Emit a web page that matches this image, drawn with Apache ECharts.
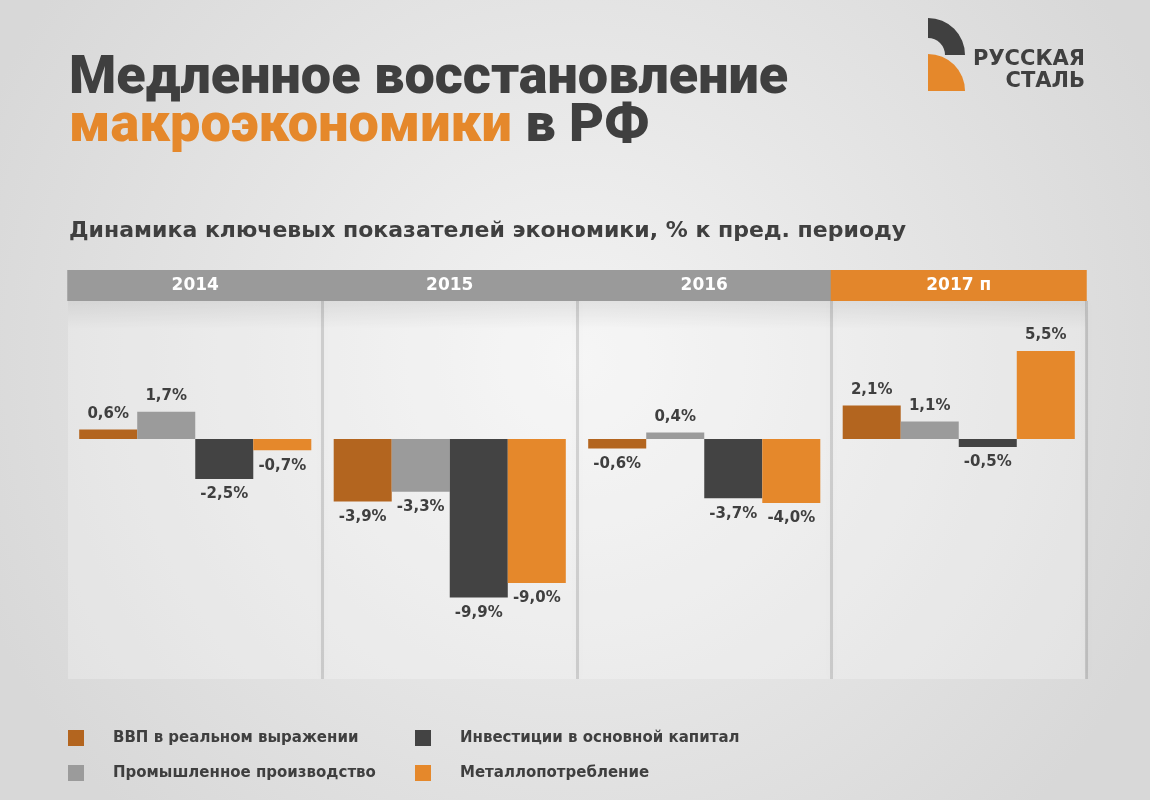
<!DOCTYPE html>
<html lang="ru">
<head>
<meta charset="UTF-8">
<title>Медленное восстановление макроэкономики в РФ</title>
<script src="https://cdn.jsdelivr.net/npm/echarts@6/dist/echarts.min.js"></script>
<style>
  html, body { margin: 0; padding: 0; }
  #main { width: 1150px; height: 800px; }
</style>
</head>
<body>
<div id="main"></div>
<script>
  // данные
  var years = ['2014', '2015', '2016', '2017 п'];
  var seriesNames = ['ВВП в реальном выражении', 'Промышленное производство',
                     'Инвестиции в основной капитал', 'Металлопотребление'];
  var gdp      = [0.6, -3.9, -0.6, 2.1];
  var industry = [1.7, -3.3, 0.4, 1.1];
  var invest   = [-2.5, -9.9, -3.7, -0.5];
  var metal    = [-0.7, -9.0, -4.0, 5.5];

  var colors = ['#b3651f', '#9b9b9b', '#434343', '#e5882b'];
  var TITLE_FONT = "Roboto, 'DejaVu Sans', sans-serif";
  var FONT = "'DejaVu Sans', sans-serif";
  var DARK = '#3f3f3f';

  var chart = echarts.init(document.getElementById('main'));

  function fmt(v) {
    return v.toFixed(1).replace('.', ',') + '%';
  }

  function makeSeries(name, values, color) {
    return {
      name: name,
      type: 'bar',
      barGap: '0%',
      barCategoryGap: '8.8%',
      itemStyle: { color: color },
      data: values.map(function (v) {
        return { value: v, label: { position: v < 0 ? 'bottom' : 'top' } };
      }),
      label: {
        show: true,
        distance: 8,
        color: DARK,
        fontFamily: FONT,
        fontWeight: 'bold',
        fontSize: 15,
        formatter: function (p) { return fmt(p.value); }
      }
    };
  }

  var allSeries = [
    makeSeries(seriesNames[0], gdp, colors[0]),
    makeSeries(seriesNames[1], industry, colors[1]),
    makeSeries(seriesNames[2], invest, colors[2]),
    makeSeries(seriesNames[3], metal, colors[3])
  ];

  var legendText = { color: DARK, fontFamily: FONT, fontWeight: 'bold', fontSize: 15, padding: [0, 0, 0, 24] };

  chart.setOption({
    backgroundColor: {
      type: 'radial', x: 0.5, y: 0.45, r: 0.8,
      colorStops: [{ offset: 0, color: '#f3f3f3' }, { offset: 1, color: '#d8d8d8' }]
    },
    title: [{
      left: 64, top: 50,
      text: '{d|Медленное восстановление}\n{o|макроэкономики}{d| в РФ}',
      textStyle: {
        rich: {
          d: { color: DARK, fontFamily: TITLE_FONT, fontWeight: 900, fontSize: 54, lineHeight: 48 },
          o: { color: '#e5882b', fontFamily: TITLE_FONT, fontWeight: 900, fontSize: 54, lineHeight: 48 }
        }
      }
    }, {
      left: 64, top: 215,
      text: 'Динамика ключевых показателей экономики, % к пред. периоду',
      textStyle: { color: DARK, fontFamily: FONT, fontWeight: 'bold', fontSize: 22 }
    }],
    legend: [{
      data: [seriesNames[0], seriesNames[1]],
      orient: 'vertical', left: 63, top: 725,
      icon: 'rect', itemWidth: 16, itemHeight: 16, itemGap: 19,
      selectedMode: false,
      textStyle: legendText
    }, {
      data: [seriesNames[2], seriesNames[3]],
      orient: 'vertical', left: 410, top: 725,
      icon: 'rect', itemWidth: 16, itemHeight: 16, itemGap: 19,
      selectedMode: false,
      textStyle: legendText
    }],
    grid: { left: 68, right: 64, top: 301, bottom: 121 },
    xAxis: {
      type: 'category',
      position: 'top',
      data: years,
      axisLine: { show: false },
      axisTick: { show: false },
      axisLabel: {
        interval: 0,
        margin: 0,
        formatter: function (v, i) {
          return (i === years.length - 1 ? '{o|' : '{g|') + v + '}';
        },
        rich: {
          g: { backgroundColor: '#9a9a9a', color: '#ffffff', width: 256, height: 31, align: 'center',
               fontFamily: FONT, fontWeight: 'bold', fontSize: 17 },
          o: { backgroundColor: '#e3862b', color: '#ffffff', width: 256, height: 31, align: 'center',
               fontFamily: FONT, fontWeight: 'bold', fontSize: 17 }
        }
      },
      splitLine: {
        show: true,
        showMinLine: false,
        lineStyle: { color: 'rgba(0,0,0,0.13)', width: 3, shadowBlur: 8, shadowColor: 'rgba(0,0,0,0.25)' }
      },
      splitArea: { show: true, areaStyle: { color: ['rgba(255,255,255,0.25)'] } }
    },
    yAxis: {
      type: 'value',
      min: -15, max: 8.625,
      axisLine: { show: false },
      axisTick: { show: false },
      axisLabel: { show: false },
      splitLine: { show: false }
    },
    graphic: [
      // тень под заголовками колонок
      { type: 'rect', shape: { x: 68, y: 301, width: 1018, height: 28 }, silent: true,
        style: { fill: { type: 'linear', x: 0, y: 0, x2: 0, y2: 1,
          colorStops: [{ offset: 0, color: 'rgba(0,0,0,0.10)' }, { offset: 1, color: 'rgba(0,0,0,0)' }] } } },
      // логотип
      { type: 'sector', shape: { cx: 928, cy: 55, r: 37, r0: 17, startAngle: -Math.PI / 2, endAngle: 0, clockwise: true },
        style: { fill: '#404040' } },
      { type: 'sector', shape: { cx: 928, cy: 91, r: 37, r0: 0, startAngle: -Math.PI / 2, endAngle: 0, clockwise: true },
        style: { fill: '#e5882b' } },
      { type: 'text', right: 65, top: 49,
        style: { text: 'РУССКАЯ', fill: '#404040', font: "bold 21px 'DejaVu Sans', sans-serif" } },
      { type: 'text', right: 65, top: 71,
        style: { text: 'СТАЛЬ', fill: '#404040', font: "bold 21px 'DejaVu Sans', sans-serif" } }
    ],
    series: allSeries
  });
</script>
</body>
</html>
